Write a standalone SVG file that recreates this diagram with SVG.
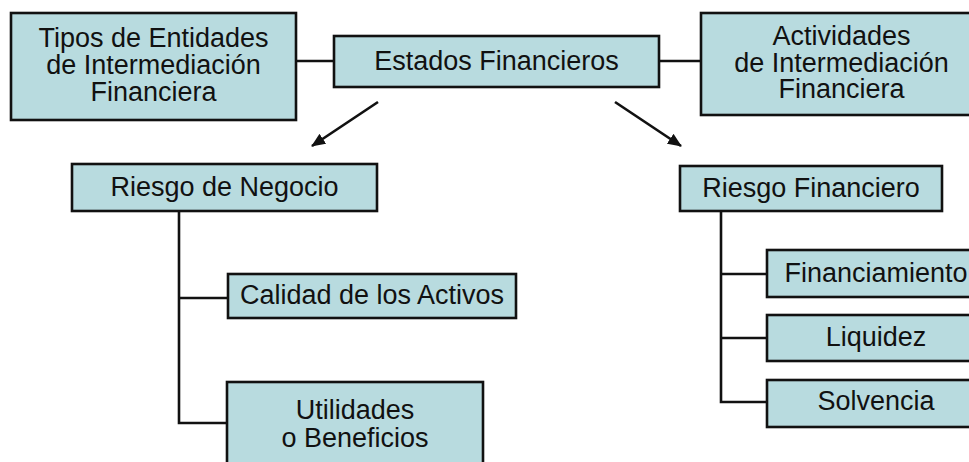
<svg xmlns="http://www.w3.org/2000/svg" width="969" height="462" viewBox="0 0 969 462">
<style>
.box{fill:#b8dbdf;stroke:#111;stroke-width:2.6}
.t{font-family:"Liberation Sans",Arial,sans-serif;font-size:27px;fill:#111;text-anchor:middle}
.c{stroke:#111;stroke-width:2.6;fill:none}
</style>
<defs>
<marker id="ah" viewBox="0 0 14 12" refX="13" refY="6" markerWidth="14" markerHeight="12" markerUnits="userSpaceOnUse" orient="auto">
<path d="M0,0 L14,6 L0,12 Z" fill="#111"/>
</marker>
</defs>
<rect width="969" height="462" fill="#fff"/>
<g id="connectors">
<line class="c" x1="296" y1="61" x2="334" y2="61"/>
<line class="c" x1="659" y1="61" x2="701" y2="61"/>
<line class="c" x1="378" y1="102" x2="312" y2="146" marker-end="url(#ah)"/>
<line class="c" x1="615" y1="102" x2="681" y2="146" marker-end="url(#ah)"/>
<polyline class="c" points="179,211 179,423 227,423"/>
<line class="c" x1="179" y1="298" x2="228" y2="298"/>
<polyline class="c" points="721,211 721,402 767,402"/>
<line class="c" x1="721" y1="274" x2="767" y2="274"/>
<line class="c" x1="721" y1="338" x2="767" y2="338"/>
</g>
<g id="tipos">
<rect class="box" x="11" y="13" width="285" height="107"/>
<text class="t" x="153.5" y="47">Tipos de Entidades</text>
<text class="t" x="153.5" y="74">de Intermediación</text>
<text class="t" x="153.5" y="101">Financiera</text>
</g>
<g id="estados">
<rect class="box" x="334" y="36" width="325" height="51"/>
<text class="t" x="496.5" y="70">Estados Financieros</text>
</g>
<g id="actividades">
<rect class="box" x="701" y="13" width="290" height="102"/>
<text class="t" x="841.5" y="45">Actividades</text>
<text class="t" x="841.5" y="72">de Intermediación</text>
<text class="t" x="841.5" y="98">Financiera</text>
</g>
<g id="negocio">
<rect class="box" x="72" y="164" width="305" height="47"/>
<text class="t" x="224.5" y="196">Riesgo de Negocio</text>
</g>
<g id="calidad">
<rect class="box" x="228" y="274" width="288" height="44"/>
<text class="t" x="372" y="304">Calidad de los Activos</text>
</g>
<g id="utilidades">
<rect class="box" x="227" y="382" width="256" height="100"/>
<text class="t" x="355" y="419">Utilidades</text>
<text class="t" x="355" y="447">o Beneficios</text>
</g>
<g id="financiero">
<rect class="box" x="680" y="166" width="262" height="45"/>
<text class="t" x="811" y="197">Riesgo Financiero</text>
</g>
<g id="financiamiento">
<rect class="box" x="767" y="250" width="230" height="47"/>
<text class="t" x="876" y="282">Financiamiento</text>
</g>
<g id="liquidez">
<rect class="box" x="767" y="315" width="230" height="46"/>
<text class="t" x="876" y="346">Liquidez</text>
</g>
<g id="solvencia">
<rect class="box" x="767" y="380" width="230" height="47"/>
<text class="t" x="876" y="410">Solvencia</text>
</g>
</svg>
